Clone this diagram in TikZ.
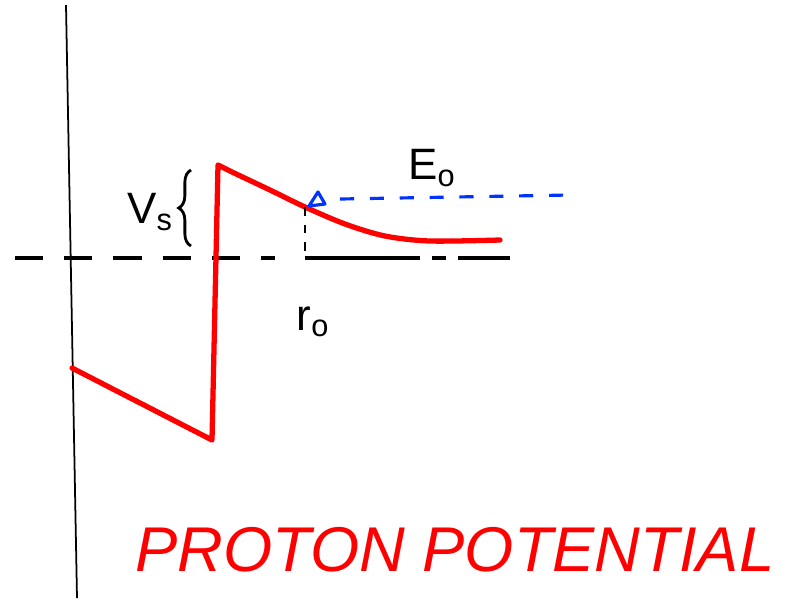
\documentclass[tikz,border=0pt]{standalone}
\usepackage{fontspec}
\setsansfont{Liberation Sans}
\usetikzlibrary{decorations.pathreplacing}
\tikzset{
  axisline/.style={black, line width=1pt},
  dashaxis/.style={black, line width=1.8pt, dash pattern=on 16pt off 12pt},
  potline/.style={red, line width=3pt, line join=round, line cap=round},
  energyline/.style={blue!80!cyan, line width=1.8pt, dash pattern=on 8pt off 9pt},
  marker/.style={black, line width=1.6pt, dash pattern=on 5pt off 5pt},
  sketchlabel/.style={font=\sffamily\fontsize{25}{27}\selectfont, inner sep=1pt},
  titlelabel/.style={font=\sffamily\itshape\fontsize{36}{40}\selectfont, text=red, inner sep=1pt}
}

\begin{document}
\begin{tikzpicture}[x=0.02cm, y=-0.02cm]
  \useasboundingbox (0,0) rectangle (787,603);
  % axes
  \draw[axisline] (66,5) -- (77,598);
  \draw[dashaxis] (15,258) -- (275,258);
  \draw[black, line width=1.8pt] (305,258) -- (420,258);
  \draw[black, line width=1.8pt] (432,258) -- (446,258);
  \draw[black, line width=1.8pt] (458,258) -- (510,258);
  % potential
  \draw[potline] (72,368) -- (212,440) -- (218,165) -- (232,172)
    plot[smooth] coordinates {(232,172) (270,190) (305,207) (345,224) (385,236) (430,241) (500,240)};
  % r0 marker and E0 level
  \coordinate (rzero) at (305,207);
  \coordinate (rbase) at (305,258);
  \draw[marker] (rzero) -- (rbase);
  \draw[blue!80!cyan, line width=1.8pt, line join=round] (309,206) -- (318,192) -- (325,204) -- cycle;
  \draw[energyline] (340,199) -- (570,195);
  % brace for Vs
  \draw[black, line width=1.6pt, decorate, decoration={brace, amplitude=7pt}] (191,246) -- (191,170);
  % labels
  \node[sketchlabel] (vs) at (150,212) {$\mathsf{V_s}$};
  \node[sketchlabel] (ezero) at (432,168) {$\mathsf{E_o}$};
  \node[sketchlabel] (rlabel) at (313,322) {$\mathsf{r_o}$};
  \node[titlelabel] (title) at (455,550) {PROTON POTENTIAL};
\end{tikzpicture}
\end{document}
